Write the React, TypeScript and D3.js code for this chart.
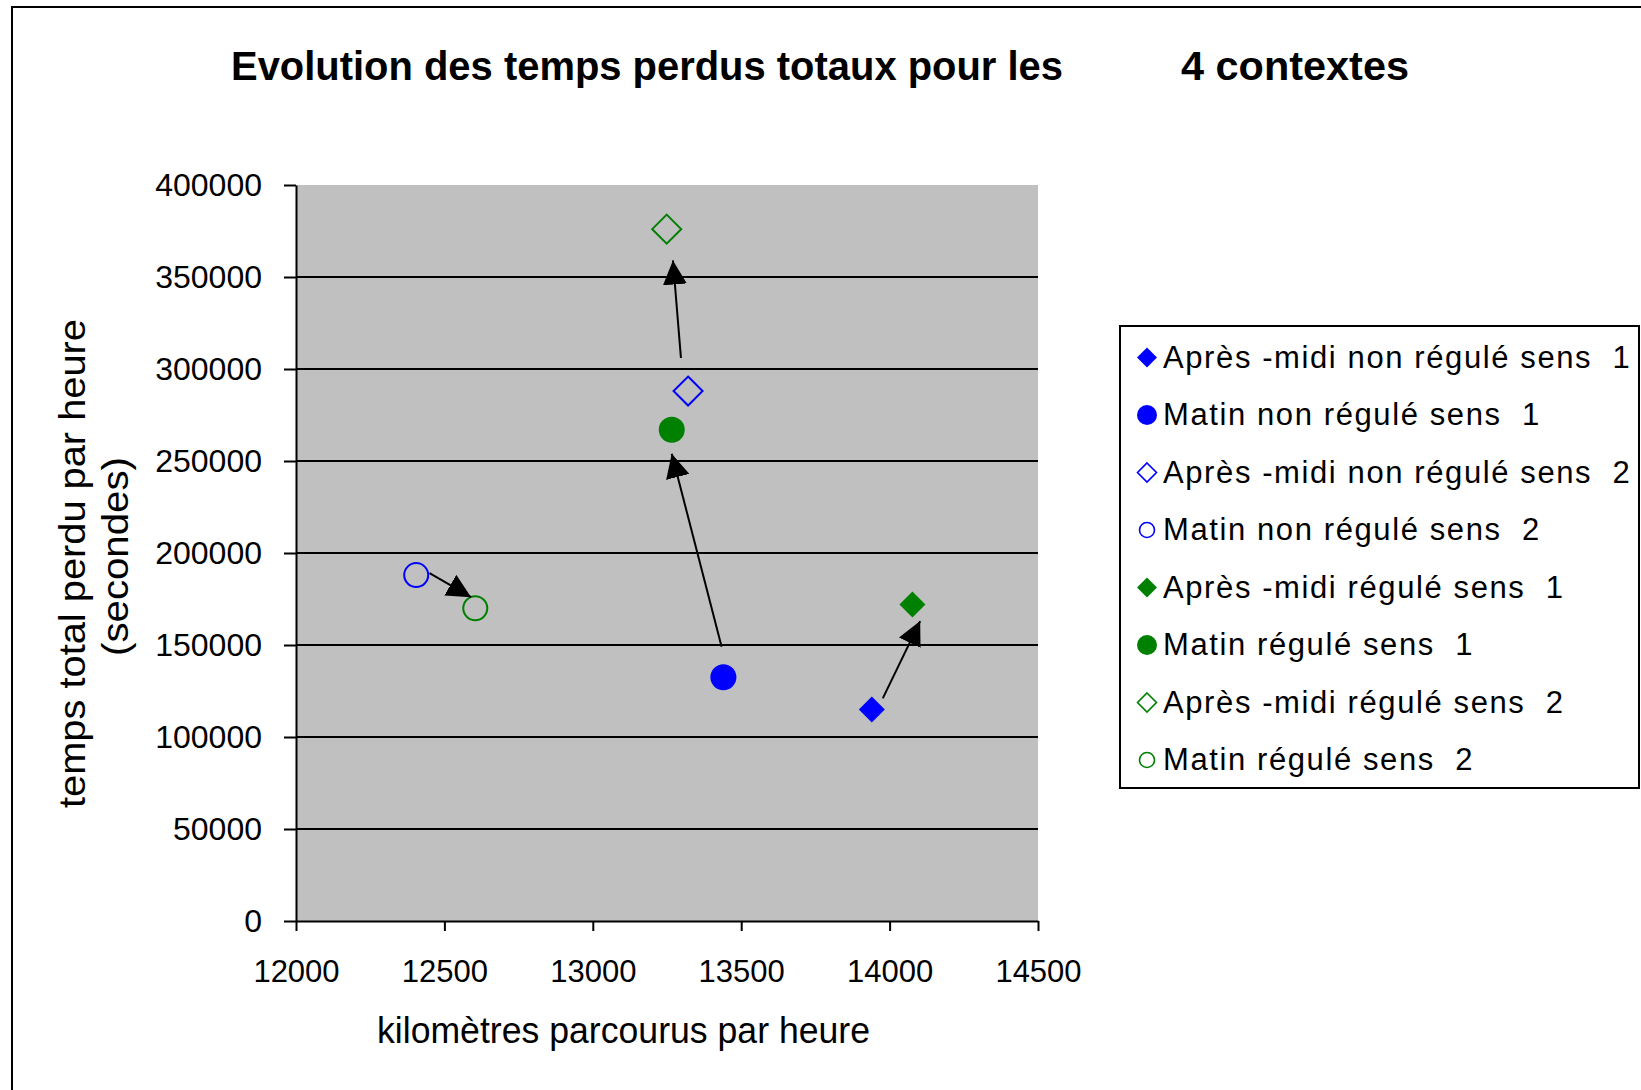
import React, { useEffect, useRef } from 'react'
import * as d3 from 'd3'

// valeurs
const seriesNames = [
  'Après -midi non régulé sens  1',
  'Matin non régulé sens  1',
  'Après -midi non régulé sens  2',
  'Matin non régulé sens  2',
  'Après -midi régulé sens  1',
  'Matin régulé sens  1',
  'Après -midi régulé sens  2',
  'Matin régulé sens  2',
]
const seriesX = [13940, 13440, 13321, 12405, 14077, 13266, 13249, 12604]
const seriesY = [115000, 132500, 288000, 188000, 172000, 267000, 376000, 170000]

// flèches (début -> fin), en unités des axes
const arrowFromX = [12450, 13434, 13297, 13977]
const arrowFromY = [189000, 149000, 306000, 121000]
const arrowToX = [12590, 13266, 13270, 14103]
const arrowToY = [176000, 254000, 359000, 163000]

const xTicks = [12000, 12500, 13000, 13500, 14000, 14500]
const yTicks = [0, 50000, 100000, 150000, 200000, 250000, 300000, 350000, 400000]

const titleLeft = 'Evolution des temps perdus totaux pour les'
const titleRight = '4 contextes'
const xTitle = 'kilomètres parcourus par heure'
const yTitle1 = 'temps total perdu par heure'
const yTitle2 = '(secondes)'

// style des séries
const colors = ['#0000FF', '#0000FF', '#0000FF', '#0000FF', '#008000', '#008000', '#008000', '#008000']
const shapes = ['diamond', 'circle', 'diamond', 'circle', 'diamond', 'circle', 'diamond', 'circle']
const filled = [true, true, false, false, true, true, false, false]

const FONT = '"Liberation Sans", Arial, sans-serif'

const markerPath = (shape, r) => {
  if (shape === 'diamond') return `M0,${-r}L${r},0L0,${r}L${-r},0Z`
  return d3.arc()({ innerRadius: 0, outerRadius: r, startAngle: 0, endAngle: 2 * Math.PI })
}

// taille du symbole dans le graphique / la légende
const plotSize = (i) => (shapes[i] === 'diamond' ? (filled[i] ? 13 : 14.5) : (filled[i] ? 13 : 12))
const legendSize = (i) => (shapes[i] === 'diamond' ? (filled[i] ? 10 : 9.5) : (filled[i] ? 10 : 7.5))

export default function App() {
  const ref = useRef(null)

  useEffect(() => {
    const svg = d3.select(ref.current)
    svg.selectAll('*').remove()

    const left = 296, right = 1038, top = 185, bottom = 921
    const x = d3.scaleLinear().domain([12000, 14500]).range([left, right])
    const y = d3.scaleLinear().domain([0, 400000]).range([bottom, top])

    // cadre extérieur
    svg.append('rect')
      .attr('x', 12).attr('y', 7)
      .attr('width', 1700).attr('height', 1200)
      .attr('fill', '#fff').attr('stroke', '#000').attr('stroke-width', 2)

    // titre
    svg.append('text')
      .attr('x', 231).attr('y', 79.5)
      .attr('font-family', FONT).attr('font-size', 40).attr('font-weight', 'bold')
      .attr('textLength', 832).attr('lengthAdjust', 'spacingAndGlyphs')
      .text(titleLeft)
    svg.append('text')
      .attr('x', 1181).attr('y', 80)
      .attr('font-family', FONT).attr('font-size', 40).attr('font-weight', 'bold')
      .attr('textLength', 228).attr('lengthAdjust', 'spacingAndGlyphs')
      .text(titleRight)

    // zone de tracé
    svg.append('rect')
      .attr('x', left).attr('y', top)
      .attr('width', right - left).attr('height', bottom - top)
      .attr('fill', '#C0C0C0')

    // quadrillage
    svg.append('g').selectAll('line')
      .data(yTicks.filter(d => d > 0 && d < 400000))
      .enter().append('line')
      .attr('x1', left).attr('x2', right)
      .attr('y1', d => y(d)).attr('y2', d => y(d))
      .attr('stroke', '#000').attr('stroke-width', 2)

    // axes
    const yAxis = svg.append('g')
      .attr('transform', `translate(${left},0)`)
      .call(d3.axisLeft(y).tickValues(yTicks).tickFormat(d3.format('d')).tickSize(12).tickSizeOuter(0).tickPadding(22))
    const xAxis = svg.append('g')
      .attr('transform', `translate(0,${bottom})`)
      .call(d3.axisBottom(x).tickValues(xTicks).tickFormat(d3.format('d')).tickSize(10).tickSizeOuter(0).tickPadding(29))
    ;[yAxis, xAxis].forEach(g => {
      g.selectAll('path, line').attr('stroke', '#000').attr('stroke-width', 2)
      g.selectAll('text').attr('fill', '#000').attr('font-family', FONT)
    })
    yAxis.selectAll('text').attr('font-size', 32)
    xAxis.selectAll('text').attr('font-size', 31)

    // titres des axes
    svg.append('text')
      .attr('x', 377).attr('y', 1043)
      .attr('font-family', FONT).attr('font-size', 36)
      .attr('textLength', 493).attr('lengthAdjust', 'spacingAndGlyphs')
      .text(xTitle)
    svg.append('text')
      .attr('transform', 'rotate(-90)')
      .attr('x', -563.5).attr('y', 85)
      .attr('text-anchor', 'middle')
      .attr('font-family', FONT).attr('font-size', 37)
      .attr('textLength', 489).attr('lengthAdjust', 'spacingAndGlyphs')
      .text(yTitle1)
    svg.append('text')
      .attr('transform', 'rotate(-90)')
      .attr('x', -556.5).attr('y', 128)
      .attr('text-anchor', 'middle')
      .attr('font-family', FONT).attr('font-size', 37)
      .attr('textLength', 199).attr('lengthAdjust', 'spacingAndGlyphs')
      .text(yTitle2)

    // pointe de flèche
    svg.append('defs').append('marker')
      .attr('id', 'head')
      .attr('viewBox', '0 0 24 24')
      .attr('markerUnits', 'userSpaceOnUse')
      .attr('markerWidth', 24).attr('markerHeight', 24)
      .attr('refX', 24).attr('refY', 12)
      .attr('orient', 'auto')
      .append('path')
      .attr('d', 'M0,0L24,12L0,24Z')
      .attr('fill', '#000')

    // points
    svg.append('g').selectAll('path')
      .data(seriesNames.map((n, i) => i))
      .enter().append('path')
      .attr('transform', i => `translate(${x(seriesX[i])},${y(seriesY[i])})`)
      .attr('d', i => markerPath(shapes[i], plotSize(i)))
      .attr('fill', i => (filled[i] ? colors[i] : 'none'))
      .attr('stroke', i => (filled[i] ? 'none' : colors[i]))
      .attr('stroke-width', 2)

    // flèches
    svg.append('g').selectAll('line')
      .data(arrowFromX.map((d, i) => i))
      .enter().append('line')
      .attr('x1', i => x(arrowFromX[i])).attr('y1', i => y(arrowFromY[i]))
      .attr('x2', i => x(arrowToX[i])).attr('y2', i => y(arrowToY[i]))
      .attr('stroke', '#000').attr('stroke-width', 2)
      .attr('marker-end', 'url(#head)')

    // légende
    const legend = svg.append('g')
    legend.append('rect')
      .attr('x', 1120).attr('y', 326)
      .attr('width', 519).attr('height', 462)
      .attr('fill', '#fff').attr('stroke', '#000').attr('stroke-width', 2)
    const rows = legend.selectAll('g.row')
      .data(seriesNames.map((n, i) => i))
      .enter().append('g')
      .attr('class', 'row')
      .attr('transform', i => `translate(0,${367.5 + i * 57.5})`)
    rows.append('path')
      .attr('transform', 'translate(1147,-10)')
      .attr('d', i => markerPath(shapes[i], legendSize(i)))
      .attr('fill', i => (filled[i] ? colors[i] : 'none'))
      .attr('stroke', i => (filled[i] ? 'none' : colors[i]))
      .attr('stroke-width', 1.6)
    rows.append('text')
      .attr('x', 1163).attr('y', 0)
      .attr('font-family', FONT).attr('font-size', 31)
      .attr('letter-spacing', 1.6)
      .style('white-space', 'pre')
      .text(i => seriesNames[i])
  }, [])

  return (
    <div style={{ position: 'absolute', left: 0, top: 0 }}>
      <svg ref={ref} width={1641} height={1090} style={{ display: 'block', background: '#fff' }}></svg>
    </div>
  )
}
